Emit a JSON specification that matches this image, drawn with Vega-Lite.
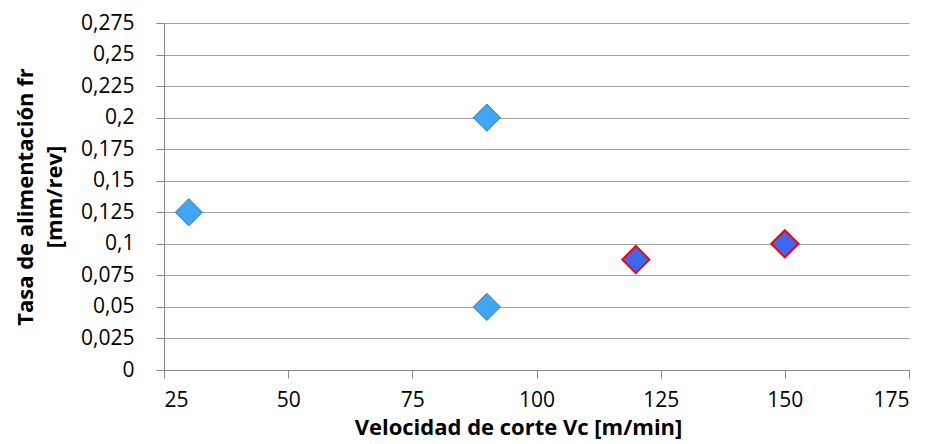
{
  "$schema": "https://vega.github.io/schema/vega-lite/v6.json",
  "autosize": "none",
  "width": 745,
  "height": 347,
  "padding": {"left": 164, "top": 23, "right": 25, "bottom": 74},
  "background": "white",
  "config": {
    "view": {"stroke": null},
    "font": "Open Sans",
    "axis": {"labelFont": "Open Sans", "titleFont": "Open Sans"}
  },
  "data": {
    "values": [
      {"vc": 30, "fr": 0.125, "grupo": "A"},
      {"vc": 90, "fr": 0.2, "grupo": "A"},
      {"vc": 90, "fr": 0.05, "grupo": "A"},
      {"vc": 120, "fr": 0.0875, "grupo": "B"},
      {"vc": 150, "fr": 0.1, "grupo": "B"}
    ]
  },
  "mark": {"type": "point", "shape": "diamond", "filled": true, "size": 740, "opacity": 1},
  "encoding": {
    "x": {
      "field": "vc", "type": "quantitative",
      "scale": {"domain": [25, 175], "nice": false, "zero": false},
      "axis": {
        "values": [25, 50, 75, 100, 125, 150, 175],
        "title": "Velocidad de corte Vc [m/min]",
        "titleFontSize": 22, "titleFontWeight": "bold", "titleColor": "black", "titlePadding": 7,
        "titleX": 354,
        "labelFontSize": 21, "labelColor": "black", "labelPadding": 11,
        "grid": false, "domainColor": "#868686", "tickColor": "#868686", "tickSize": 8
      }
    },
    "y": {
      "field": "fr", "type": "quantitative",
      "scale": {"domain": [0, 0.275], "nice": false},
      "axis": {
        "values": [0, 0.025, 0.05, 0.075, 0.1, 0.125, 0.15, 0.175, 0.2, 0.225, 0.25, 0.275],
        "labelExpr": "replace(format(datum.value, '.3~f'), '.', ',')",
        "title": ["Tasa de alimentación fr", "[mm/rev]"],
        "titleFontSize": 22, "titleFontWeight": "bold", "titleColor": "black", "titlePadding": 14,
        "titleLineHeight": 29,
        "labelFontSize": 21, "labelColor": "black", "labelPadding": 22,
        "grid": true, "gridColor": "#A0A0A0", "gridWidth": 1,
        "domainColor": "#868686", "tickColor": "#868686", "tickSize": 8
      }
    },
    "fill": {
      "field": "grupo", "type": "nominal",
      "scale": {"domain": ["A", "B"], "range": ["#3FA6F4", "#3D68F2"]},
      "legend": null
    },
    "stroke": {
      "field": "grupo", "type": "nominal",
      "scale": {"domain": ["A", "B"], "range": ["#3579C2", "#FF0000"]},
      "legend": null
    },
    "strokeWidth": {
      "field": "grupo", "type": "nominal",
      "scale": {"domain": ["A", "B"], "range": [1, 2]},
      "legend": null
    }
  }
}
